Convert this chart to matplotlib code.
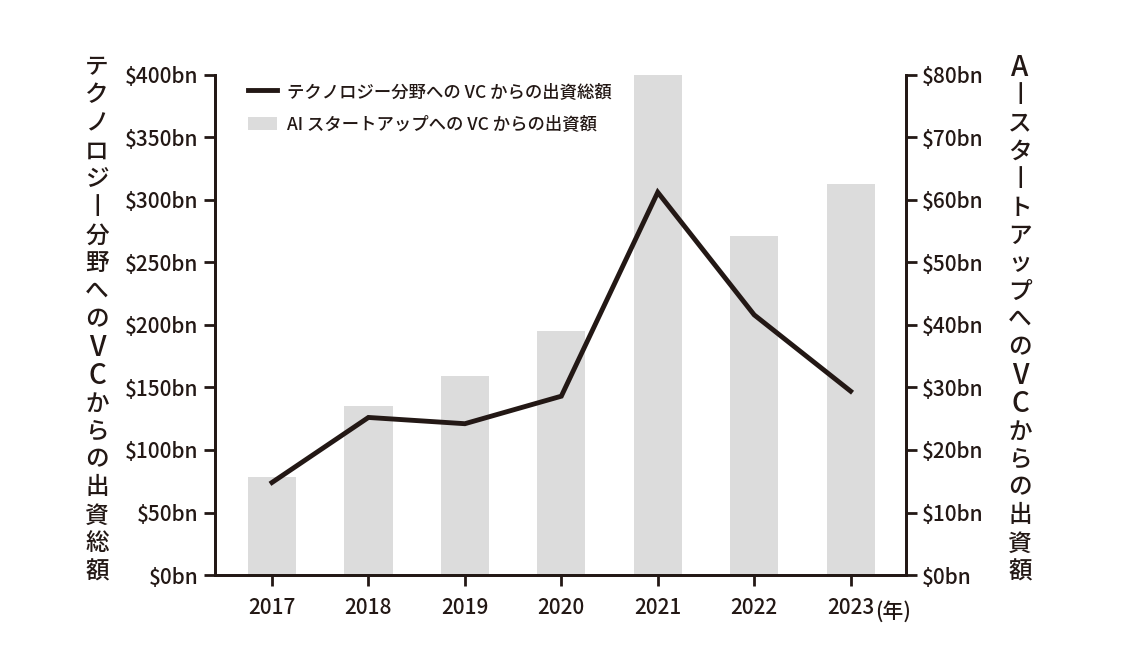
import matplotlib.pyplot as plt
import numpy as np

plt.rcParams['font.family'] = ['Noto Sans CJK JP', 'DejaVu Sans']

years = ['2017', '2018', '2019', '2020', '2021', '2022', '2023']
tech_vc = [74, 126, 121, 143, 306, 208, 147]      # left axis, $bn
ai_vc = [15.7, 27.0, 31.8, 39.0, 80.0, 54.2, 62.6]  # right axis, $bn

# vertical axis titles, one glyph per row (丨 stands for the vertical ー)
left_label = list('テクノロジ丨分野へのVCからの出資総額')
right_label = list('A丨スタ丨トアップへのVCからの出資額')

ink = '#231815'
bar_col = '#dcdcdc'

fig = plt.figure(figsize=(11.32, 6.61), dpi=100)
ax = fig.add_axes([0.190, 0.130, 0.610, 0.757])
ax2 = ax.twinx()

x = np.arange(len(years))

# bars on the right axis, line on the left axis (draw line on top)
ax.set_zorder(ax2.get_zorder() + 1)
ax.patch.set_visible(False)
bars = ax2.bar(x, ai_vc, width=0.5, color=bar_col, zorder=1)
line, = ax.plot(x, tech_vc, color=ink, lw=3.5, solid_joinstyle='miter', zorder=3)

ax.set_xlim(-0.59, 6.57)
ax.set_ylim(0, 400)
ax2.set_ylim(0, 80)

ax.set_yticks(np.arange(0, 401, 50))
ax.set_yticklabels([f'${v}bn' for v in range(0, 401, 50)])
ax2.set_yticks(np.arange(0, 81, 10))
ax2.set_yticklabels([f'${v}bn' for v in range(0, 81, 10)])
ax.set_xticks(x)
ax.set_xticklabels(years)

for a in (ax, ax2):
    a.spines['top'].set_visible(False)
    for s in ('left', 'right', 'bottom'):
        a.spines[s].set_linewidth(2)
        a.spines[s].set_color(ink)
    a.tick_params(axis='both', direction='out', length=8, width=2, color=ink,
                  labelsize=15, labelcolor=ink, pad=4)
    for t in a.get_yticklabels():
        t.set_fontweight('medium')
ax.tick_params(axis='x', pad=8, labelsize=15)
for t in ax.get_xticklabels():
    t.set_fontweight('medium')

ax.text(len(years) - 1 + 0.25, -0.052, '(年)', transform=ax.get_xaxis_transform(),
        ha='left', va='top', fontsize=15, color=ink, fontweight='medium')

# vertical titles
def vlabel(chars, xc, ytop, ybot):
    ys = np.linspace(ytop, ybot, len(chars))
    for ch, yy in zip(chars, ys):
        size = 20 if ch.isascii() else 17
        fig.text(xc, 1 - yy / 661, ch, ha='center', va='center',
                 fontsize=size, color=ink, fontweight='medium')

vlabel(left_label, 97 / 1132, 68, 572)
vlabel(right_label, 1020 / 1132, 68, 572)

leg = ax.legend([line, bars], ['テクノロジー分野への VC からの出資総額', 'AI スタートアップへの VC からの出資額'],
                loc='upper left', bbox_to_anchor=(0.025, 1.015), frameon=False,
                fontsize=12.5, handlelength=1.65, handleheight=0.8, labelspacing=0.85,
                handletextpad=0.6)
for t in leg.get_texts():
    t.set_color(ink)
    t.set_fontweight('medium')

fig.savefig('out.png', dpi=100)
